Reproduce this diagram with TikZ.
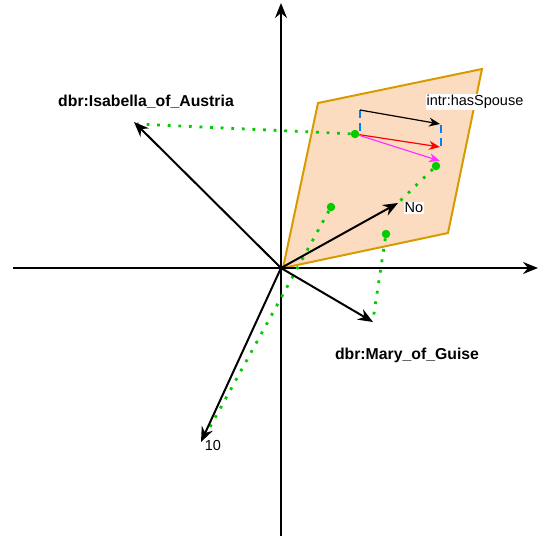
\documentclass[tikz,border=0pt]{standalone}
\usepackage{fontspec}
\setmainfont{Liberation Sans}
\usetikzlibrary{arrows.meta}
\definecolor{planefill}{HTML}{FCDCC0}
\definecolor{planedraw}{HTML}{D79B00}
\definecolor{dotgreen}{HTML}{00CC00}
\definecolor{dashblue}{HTML}{007FFF}
\definecolor{magentaarrow}{HTML}{FF33FF}
\tikzset{
  axis/.style={line width=2pt,-{Stealth[length=15pt,width=12pt,inset=5pt]}},
  vec/.style={line width=2pt,-{Stealth[length=15pt,width=12pt,inset=5pt]}},
  thin arrow/.style={line width=1.2pt,-{Stealth[length=11pt,width=9pt,inset=3.5pt]}},
  gdots/.style={dotgreen,line width=2.8pt,dash pattern=on 2.8pt off 7.8pt},
  gdot/.style={circle,fill=dotgreen,inner sep=0pt,minimum size=8.5pt},
  bdash/.style={dashblue,line width=2pt,dash pattern=on 8pt off 5pt},
  lbl/.style={font=\fontsize{15.8}{18}\selectfont\bfseries},
  plain/.style={font=\fontsize{14.5}{17}\selectfont,fill=white,inner sep=1pt}
}
\begin{document}
\begin{tikzpicture}[x=1pt,y=-1pt]
\useasboundingbox (0,0) rectangle (538,539);
% plane
\draw[planedraw,fill=planefill,line width=2pt,line join=miter]
  (283,268) -- (318,103) -- (482,69) -- (448,233) -- cycle;
% axes
\coordinate (O) at (281,268);
\coordinate (ybot) at (281,536);
\coordinate (ytop) at (281,3);
\coordinate (xl) at (13,268);
\coordinate (xr) at (538,268);
\draw[axis] (ybot) -- (ytop);
\draw[axis] (xl) -- (xr);
% points
\node[gdot] (pIsa) at (355,134) {};
\node[gdot] (pNo) at (436,166) {};
\node[gdot] (pTen) at (331,207) {};
\node[gdot] (pMary) at (386,234) {};
% vector tips
\coordinate (tIsa) at (134,122);
\coordinate (tNo) at (398,203);
\coordinate (tMary) at (373,322);
\coordinate (tTen) at (201,442);
% dotted projections
\draw[gdots] (pIsa) -- (137,124);
\draw[gdots] (pNo) -- (400,201);
\draw[gdots] (pTen) -- (204,438);
\draw[gdots] (pMary) -- (373,320);
% vectors
\draw[vec] (O) -- (tIsa);
\draw[vec] (O) -- (tNo);
\draw[vec] (O) -- (tMary);
\draw[vec] (O) -- (tTen);
% blue dashed
\coordinate (b1t) at (360,110);
\coordinate (b1b) at (360,135);
\coordinate (b2t) at (441,125);
\coordinate (b2b) at (441,149);
\draw[bdash] (b1t) -- (b1b);
\draw[bdash] (b2t) -- (b2b);
% relation arrows
\draw[thin arrow,black] (b1t) -- (440,124);
\draw[thin arrow,red] (pIsa) -- (440,147);
\draw[thin arrow,magentaarrow] (pIsa) -- (440,161);
% labels
\node[lbl] (lIsa) at (146,102) {dbr:Isabella\_of\_Austria};
\node[lbl] (lMary) at (407,355) {dbr:Mary\_of\_Guise};
\node[plain] (lNo) at (414,208) {No};
\node[font=\fontsize{14.5}{17}\selectfont] (lTen) at (213,446) {10};
\node[plain] (lSp) at (475,102) {intr:hasSpouse};
\end{tikzpicture}
\end{document}
